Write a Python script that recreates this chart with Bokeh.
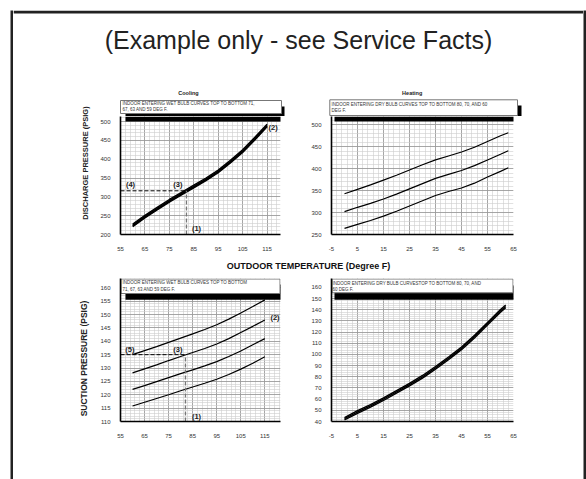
import numpy as np
from bokeh.plotting import figure
from bokeh.layouts import row, column
from bokeh.models import FixedTicker, Label, Spacer, Range1d
from bokeh.embed import file_html
from bokeh.resources import INLINE

FONT = "Liberation Sans"

# ---------------- data ----------------
cool_x = [60, 65, 70, 75, 80, 85, 90, 95, 100, 105, 110, 115]
# discharge pressure, cooling (wet bulb 71, 67, 63, 59)
cool_dis_71 = [228, 251, 272, 293, 312, 331, 350, 371, 397, 425, 458, 493]
cool_dis_67 = [225, 248, 269, 290, 309, 328, 347, 368, 394, 422, 455, 490]
cool_dis_63 = [223, 246, 267, 288, 307, 326, 345, 366, 392, 420, 453, 488]
cool_dis_59 = [221, 244, 265, 286, 305, 324, 343, 364, 390, 418, 451, 486]
# suction pressure, cooling
cool_suc_71 = [135.0, 136.5, 138.0, 139.6, 141.2, 142.8, 144.4, 146.2, 148.3, 150.6, 153.0, 155.5]
cool_suc_67 = [128.2, 129.7, 131.2, 132.8, 134.3, 135.8, 137.3, 139.0, 141.0, 143.3, 145.6, 148.0]
cool_suc_63 = [122.0, 123.4, 124.9, 126.4, 127.9, 129.3, 130.8, 132.4, 134.3, 136.4, 138.7, 141.0]
cool_suc_59 = [115.8, 117.2, 118.6, 120.0, 121.5, 122.9, 124.3, 125.8, 127.6, 129.6, 131.8, 134.2]

heat_x = [0, 5, 10, 15, 20, 25, 30, 35, 40, 45, 50, 55, 60, 63]
# discharge pressure, heating (dry bulb 80, 70, 60)
heat_dis_80 = [343, 353, 363, 374, 385, 397, 409, 420, 429, 438, 449, 462, 475, 482]
heat_dis_70 = [302, 312, 321, 331, 342, 354, 366, 378, 387, 396, 407, 420, 433, 441]
heat_dis_60 = [264, 273, 282, 292, 303, 315, 327, 339, 348, 356, 367, 381, 394, 402]

heat_suc_x = [0, 5, 10, 15, 20, 25, 30, 35, 40, 45, 50, 55, 60, 62]
heat_suc_80 = [43.5, 49.7, 55.2, 61.2, 67.7, 74.2, 81.2, 89.2, 97.7, 106.7, 117.2, 128.7, 140.2, 144.2]
heat_suc_70 = [42.5, 48.5, 54.0, 60.0, 66.5, 73.0, 80.0, 88.0, 96.5, 105.5, 116.0, 127.5, 139.0, 143.0]
heat_suc_60 = [41.5, 47.3, 52.8, 58.8, 65.3, 71.8, 78.8, 86.8, 95.3, 104.3, 114.8, 126.3, 137.8, 141.8]

# example reading: outdoor temp (1), discharge (4), suction (5)
op_temp = 82
op_dis = 316
op_suc = 135

cool_x_ticks = [55, 65, 75, 85, 95, 105, 115]
heat_x_ticks = [-5, 5, 15, 25, 35, 45, 55, 65]
cool_dis_ticks = [200, 250, 300, 350, 400, 450, 500]
cool_suc_ticks = [110, 115, 120, 125, 130, 135, 140, 145, 150, 155, 160]
heat_dis_ticks = [250, 300, 350, 400, 450, 500]
heat_suc_ticks = [40, 50, 60, 70, 80, 90, 100, 110, 120, 130, 140, 150, 160]

title_text = "(Example only - see Service Facts)"
xlabel_text = "OUTDOOR TEMPERATURE (Degree F)"
cool_box = ["INDOOR ENTERING WET BULB CURVES TOP TO BOTTOM 71,", "67, 63 AND 59 DEG F."]
heat_box = ["INDOOR ENTERING DRY BULB CURVES TOP TO BOTTOM 80, 70, AND 60", "DEG F."]
cool_box2 = ["INDOOR ENTERING WET BULB CURVES TOP TO BOTTOM", "71, 67, 63 AND 59 DEG F."]
heat_box2 = ["INDOOR ENTERING DRY BULB CURVESTOP TO BOTTOM 80, 70, AND", "60 DEG F."]

LW = 1.2
DASH = "4 2"
INK = "#222222"


def canvas(ox, oy, w, h):
    """A bare figure whose data coordinates are page pixels."""
    c = figure(width=w, height=h, x_range=Range1d(ox, ox + w), y_range=Range1d(oy + h, oy),
               output_backend="svg", toolbar_location=None, x_axis_type=None, y_axis_type=None,
               min_border=0, outline_line_color=None, frame_align=False)
    c.background_fill_color = "white"
    c.border_fill_color = "white"
    ident = lambda v: v
    return c, ident, ident


def panel(ox, oy, w, h, frame, xr, yr, xticks, xminor, yticks, yminor):
    fx0, fy0, fx1, fy1 = frame
    p = figure(width=w, height=h, x_range=Range1d(*xr), y_range=Range1d(*yr),
               output_backend="svg", toolbar_location=None, frame_align=False,
               min_border_left=fx0 - ox, min_border_right=ox + w - fx1,
               min_border_top=fy0 - oy, min_border_bottom=oy + h - fy1)
    xt = FixedTicker(ticks=xticks, minor_ticks=list(xminor))
    yt = FixedTicker(ticks=yticks, minor_ticks=list(yminor))
    p.xaxis.ticker = xt
    p.yaxis.ticker = yt
    p.xgrid.ticker = xt
    p.ygrid.ticker = yt
    p.axis.major_tick_line_color = None
    p.axis.minor_tick_line_color = None
    p.axis.axis_line_color = "black"
    p.axis.axis_line_width = 1.6
    p.axis.major_label_text_font = FONT
    p.axis.major_label_text_font_size = "6px"
    p.axis.major_label_text_color = "#333333"
    p.xaxis.major_label_standoff = 6
    p.yaxis.major_label_standoff = 4
    p.xaxis.major_label_overrides = {t: str(t) for t in xticks}
    p.grid.grid_line_color = "#8c8c8c"
    p.grid.grid_line_width = 0.7
    p.grid.minor_grid_line_color = "#cdcdcd"
    p.grid.minor_grid_line_width = 0.6
    p.outline_line_color = None
    p.background_fill_color = "white"
    p.border_fill_color = "white"

    def X(px):
        return xr[0] + (px - fx0) / (fx1 - fx0) * (xr[1] - xr[0])

    def Y(py):
        return yr[0] + (fy1 - py) / (fy1 - fy0) * (yr[1] - yr[0])

    return p, X, Y


def rect(p, X, Y, l, t, r, b, fill, line=None):
    p.quad(left=X(l), right=X(r), top=Y(t), bottom=Y(b), fill_color=fill,
           line_color=line, line_width=1)


def lines_in_box(p, X, Y, lines, ys, tx):
    for t, ly in zip(lines, ys):
        p.add_layout(Label(x=X(tx), y=Y(ly), text=t, text_font=FONT, text_font_size="4.5px",
                           text_baseline="middle", text_align="left", text_color="#333333"))


def txt(p, X, Y, px, py, t, size, bold=True, angle=0.0, color=INK):
    p.add_layout(Label(x=X(px), y=Y(py), text=t, text_font=FONT, text_font_size=size,
                       text_font_style="bold" if bold else "normal", text_align="center",
                       text_baseline="middle", text_color=color, angle=angle))


# ---------------- title strip (with top border) ----------------
ttl, TX, TY = canvas(13, 10, 570, 65)
rect(ttl, TX, TY, 13, 10, 583, 13, INK)
txt(ttl, TX, TY, 298, 39, title_text, "25px", bold=False)

# ---------------- top row ----------------
yl_tl, A, B = canvas(13, 75, 82, 181)
txt(yl_tl, A, B, 85, 162.5, "DISCHARGE PRESSURE (PSIG)", "7.5px", angle=np.pi / 2)

hdr_tl, A, B = canvas(95, 75, 205, 41)
rect(hdr_tl, A, B, 125, 106, 284, 116, "black")
rect(hdr_tl, A, B, 120, 100, 281, 113, "white", "#777777")
lines_in_box(hdr_tl, A, B, cool_box, (102.7, 109), 122)
txt(hdr_tl, A, B, 188, 92.7, "Cooling", "5.5px")

tl, X1, Y1 = panel(95, 116, 205, 140, (120, 116, 280, 234), (55, 120.5), (200, 513.3),
                   cool_x_ticks, np.arange(57, 121, 2), cool_dis_ticks, np.arange(210, 511, 10))
rect(tl, X1, Y1, 125, 116, 284, 121, "black")
for s in (cool_dis_71, cool_dis_67, cool_dis_63, cool_dis_59):
    tl.line(cool_x, s, line_color="black", line_width=1.4)
tl.line([55, op_temp], [op_dis, op_dis], line_color="black", line_dash=DASH, line_width=1)
tl.line([op_temp, op_temp], [200, op_dis], line_color="#777777", line_dash=DASH, line_width=1.3)
txt(tl, X1, Y1, 196, 228.3, "(1)", "7.5px")
txt(tl, X1, Y1, 272.7, 127, "(2)", "7.5px")
txt(tl, X1, Y1, 177.3, 184.3, "(3)", "7.5px")
txt(tl, X1, Y1, 130, 184.3, "(4)", "7.5px")

hdr_tr, A, B = canvas(300, 75, 283, 41)
rect(hdr_tr, A, B, 334, 105, 521, 116, "black")
rect(hdr_tr, A, B, 329.3, 99.3, 517, 115, "white", "#777777")
lines_in_box(hdr_tr, A, B, heat_box, (104, 110), 331)
txt(hdr_tr, A, B, 411.7, 92.7, "Heating", "5.5px")

tr, X2, Y2 = panel(300, 116, 283, 140, (331, 116, 513, 234), (-5, 65), (250, 519),
                   heat_x_ticks, np.arange(-3, 65, 2), heat_dis_ticks, np.arange(260, 519, 10))
rect(tr, X2, Y2, 334, 116, 521, 121, "black")
for s in (heat_dis_80, heat_dis_70, heat_dis_60):
    tr.line(heat_x, s, line_color="black", line_width=LW)

# ---------------- mid strip: shared x-axis title ----------------
mid, A, B = canvas(13, 256, 570, 18)
txt(mid, A, B, 308, 265.7, xlabel_text, "9px", color="#111111")

# ---------------- bottom row ----------------
yl_bl, A, B = canvas(13, 274, 82, 205)
txt(yl_bl, A, B, 83, 358, "SUCTION PRESSURE (PSIG)", "8.5px", angle=np.pi / 2)

bl, X3, Y3 = panel(95, 274, 205, 205, (120, 278, 280, 421), (55, 121.5), (110, 163.5),
                   cool_x_ticks, np.arange(57, 122, 2), cool_suc_ticks, np.arange(111, 164, 1))
for s in (cool_suc_71, cool_suc_67, cool_suc_63, cool_suc_59):
    bl.line(cool_x, s, line_color="black", line_width=LW)
bl.line([55, op_temp], [op_suc, op_suc], line_color="black", line_dash=DASH, line_width=1)
bl.line([op_temp, op_temp], [110, op_suc], line_color="#777777", line_dash=DASH, line_width=1.3)
rect(bl, X3, Y3, 125, 284, 283, 299.3, "black")
rect(bl, X3, Y3, 120.5, 278.5, 279.5, 293, "white", "#777777")
lines_in_box(bl, X3, Y3, cool_box2, (282.3, 289), 122)
txt(bl, X3, Y3, 129.3, 349.3, "(5)", "7.5px")
txt(bl, X3, Y3, 177.3, 349.3, "(3)", "7.5px")
txt(bl, X3, Y3, 274.5, 316.7, "(2)", "7.5px")
txt(bl, X3, Y3, 196, 416.2, "(1)", "7.5px")

br, X4, Y4 = panel(300, 274, 283, 205, (331, 278, 513, 421), (-5, 65), (40, 168),
                   heat_x_ticks, np.arange(-3, 65, 2), heat_suc_ticks, np.arange(42, 168, 2))
for s in (heat_suc_80, heat_suc_70, heat_suc_60):
    br.line(heat_suc_x, s, line_color="black", line_width=1.4)
rect(br, X4, Y4, 334, 285, 521, 299.3, "black")
rect(br, X4, Y4, 331.5, 278.5, 512.5, 292.3, "white", "#777777")
lines_in_box(br, X4, Y4, heat_box2, (283.3, 289.3), 332)


def bar(w, h):
    b = figure(width=w, height=h, output_backend="svg", toolbar_location=None,
               x_axis_type=None, y_axis_type=None, min_border=0, outline_line_color=None,
               background_fill_color=INK, border_fill_color=INK, frame_align=False)
    return b


FRAME_H = 469
inner = column(ttl,
               row(yl_tl, column(hdr_tl, tl), column(hdr_tr, tr)),
               mid,
               row(yl_bl, bl, br))
page = column(Spacer(width=586, height=10),
              row(Spacer(width=10, height=FRAME_H), bar(3, FRAME_H), inner, bar(3, FRAME_H)))

open("out.html", "w").write(file_html(page, INLINE))
